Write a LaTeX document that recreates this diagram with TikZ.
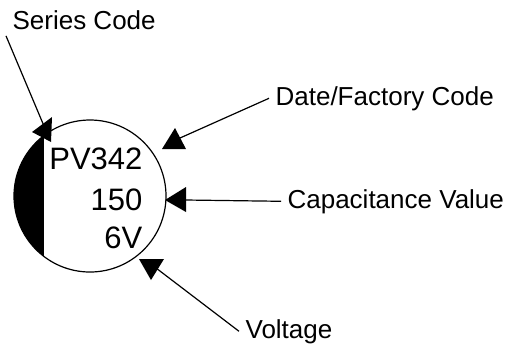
\documentclass[tikz,border=0pt]{standalone}
\usepackage{fontspec}
\setmainfont{Liberation Sans}
\usepackage{tikz}

\begin{document}
\begin{tikzpicture}[x=0.5pt,y=-0.5pt,line width=0.6pt,
	lbl/.style={inner sep=3pt,anchor=base west,font=\fontsize{13}{15}\selectfont},
	mark text/.style={inner sep=0pt,anchor=base east,font=\fontsize{15.5}{18}\selectfont},
	headtri/.style={fill=black,draw=none}]
	\useasboundingbox (0,0) rectangle (512,345);

	% capacitor top view
	\node[draw,circle,minimum size=76pt,inner sep=0pt] (cap) at (90,196) {};
	\begin{scope}
		\clip (cap.center) circle[radius=38pt];
		\fill (0,100) rectangle (44,300);
	\end{scope}
	\node[mark text] (series nr) at (143,169) {PV342};
	\node[mark text] (capnr) at (143,210) {150};
	\node[mark text] (voltnr) at (143,248) {6V};

	% labels
	\node[lbl] (series) at (6,29) {Series Code};
	\node[lbl] (date) at (269,105) {Date/Factory Code};
	\node[lbl] (capval) at (281,208) {Capacitance Value};
	\node[lbl] (volt) at (239,338) {Voltage};

	\coordinate (stip) at (44,126);
	\coordinate (dtip) at (180,138);
	\coordinate (ctip) at (186,200);
	\coordinate (vtip) at (156,268);

	\draw (series.south west) -- (stip);
	\draw (date.west) -- (dtip);
	\draw (capval.west) -- (ctip);
	\draw (volt.west) -- (vtip);

	% heads
	\fill[headtri] (32,132) -- (52,117) -- (51,142) -- cycle;
	\fill[headtri] (175,128) -- (162,149) -- (186,149) -- cycle;
	\fill[headtri] (165,200) -- (186,187) -- (186,212) -- cycle;
	\fill[headtri] (139,259) -- (164,259) -- (151,280) -- cycle;
\end{tikzpicture}
\end{document}
